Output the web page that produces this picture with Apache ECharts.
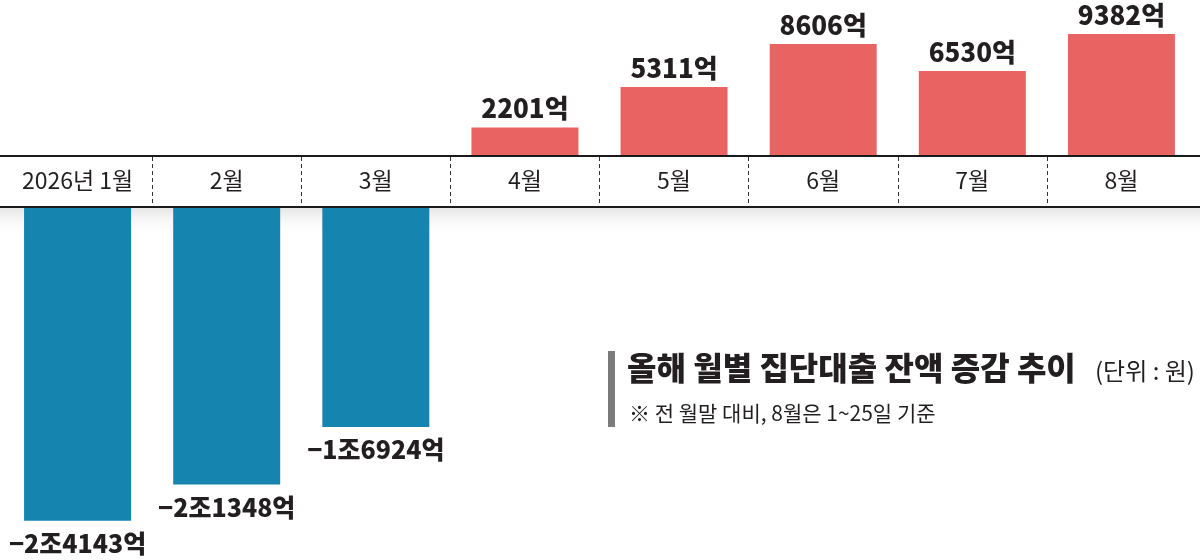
<!DOCTYPE html>
<html>
<head>
<meta charset="utf-8">
<script src="https://cdn.jsdelivr.net/npm/echarts@6/dist/echarts.min.js"></script>
<style>
  html, body { margin: 0; padding: 0; background: #fff; }
  #chart { width: 1200px; height: 560px; }
</style>
</head>
<body>
<div id="chart"></div>
<script>
// 월별 집단대출 잔액 증감 (단위: 억원)
var months = ['2026년 1월', '2월', '3월', '4월', '5월', '6월', '7월', '8월'];
var change = [-24143, -21348, -16924, 2201, 5311, 8606, 6530, 9382];

var upValues = change.map(function (v) { return v > 0 ? v : null; });
var downValues = change.map(function (v) { return v < 0 ? v : null; });

var font = '"Noto Sans CJK KR", sans-serif';

// 1조 = 10000억
function fmt(v) {
    var a = Math.abs(v);
    var jo = Math.floor(a / 10000);
    var eok = a % 10000;
    var s = (jo > 0 ? jo + '조' : '') + eok + '억';
    return v < 0 ? '\u2212' + s : s;
}

var myChart = echarts.init(document.getElementById('chart'));
myChart.setOption({
    animation: false,
    grid: [
        { left: 3, right: 4, top: 26, height: 130 },   // 증가 (위)
        { left: 3, right: 4, top: 207, height: 351 },  // 감소 (아래)
        { left: 3, right: 4, top: 157, height: 49 }    // 월 띠
    ],
    xAxis: [
        {
            type: 'category', gridIndex: 0, data: months, position: 'bottom',
            axisLine: { show: false },
            axisTick: { show: false },
            axisLabel: {
                margin: 13,
                fontFamily: font,
                fontSize: 23,
                color: '#231f20'
            }
        },
        {
            type: 'category', gridIndex: 1, data: months, position: 'top',
            axisLine: { show: false }, axisTick: { show: false }, axisLabel: { show: false }
        },
        {
            type: 'value', gridIndex: 2, min: 0, max: 8, interval: 1,
            axisLine: { show: false }, axisTick: { show: false }, axisLabel: { show: false },
            splitLine: {
                show: true, showMinLine: false, showMaxLine: false,
                lineStyle: { type: [4, 3], color: '#333', width: 1 }
            }
        }
    ],
    yAxis: [
        { type: 'value', gridIndex: 0, min: 0, max: 10000, show: false },
        { type: 'value', gridIndex: 1, min: -27000, max: 0, show: false },
        { type: 'value', gridIndex: 2, min: 0, max: 1, show: false }
    ],
    graphic: [
        {   // 띠 아래 그림자
            type: 'rect', z: 0,
            shape: { x: 0, y: 208, width: 1200, height: 30 },
            style: {
                fill: new echarts.graphic.LinearGradient(0, 0, 0, 1, [
                    { offset: 0, color: '#e6e6e6' },
                    { offset: 1, color: 'rgba(255,255,255,0)' }
                ])
            }
        },
        {
            type: 'line', z: 10,
            shape: { x1: 0, y1: 156, x2: 1200, y2: 156 },
            style: { stroke: '#1a1a1a', lineWidth: 2 }
        },
        {
            type: 'line', z: 10,
            shape: { x1: 0, y1: 207, x2: 1200, y2: 207 },
            style: { stroke: '#1a1a1a', lineWidth: 2 }
        },
        {   // 제목 옆 회색 막대
            type: 'rect', z: 10,
            shape: { x: 608, y: 351, width: 7, height: 76 },
            style: { fill: '#7b7b7b' }
        }
    ],
    title: [
        {
            left: 622, top: 347,
            text: '올해 월별 집단대출 잔액 증감 추이',
            textStyle: { fontFamily: font, fontWeight: 900, fontSize: 32, color: '#231f20' }
        },
        {
            left: 1090, top: 354,
            text: '(단위 : 원)',
            textStyle: { fontFamily: font, fontWeight: 'normal', fontSize: 24, color: '#231f20' }
        },
        {
            left: 624, top: 398,
            text: '※ 전 월말 대비, 8월은 1~25일 기준',
            textStyle: { fontFamily: font, fontWeight: 'normal', fontSize: 21, color: '#231f20' }
        }
    ],
    series: [
        {
            type: 'bar', xAxisIndex: 0, yAxisIndex: 0,
            data: upValues,
            barWidth: 107,
            itemStyle: { color: '#e96363' },
            label: {
                show: true,
                position: 'top',
                distance: 6,
                formatter: function (p) { return fmt(p.value); },
                fontFamily: font,
                fontWeight: 900,
                fontSize: 26,
                color: '#231f20'
            }
        },
        {
            type: 'bar', xAxisIndex: 1, yAxisIndex: 1,
            data: downValues,
            barWidth: 107,
            itemStyle: { color: '#1585b0' },
            label: {
                show: true,
                position: 'bottom',
                distance: 10,
                formatter: function (p) { return fmt(p.value); },
                fontFamily: font,
                fontWeight: 900,
                fontSize: 25,
                color: '#231f20'
            }
        }
    ]
});
</script>
</body>
</html>
